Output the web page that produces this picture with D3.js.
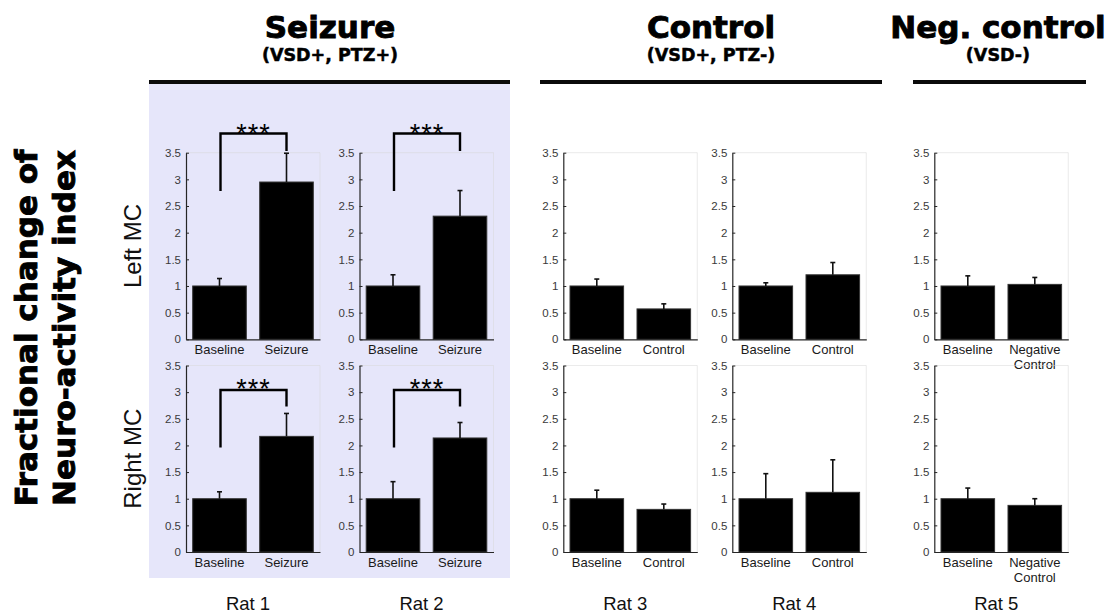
<!DOCTYPE html>
<html>
<head>
<meta charset="utf-8">
<script src="https://cdn.jsdelivr.net/npm/d3@7"></script>
<style>
  html, body { margin: 0; padding: 0; background: #fff; }
  svg { display: block; }
</style>
</head>
<body>
<svg id="chart" width="1113" height="616"></svg>
<script>
// ---------------- DATA ----------------
const rats = ["Rat 1", "Rat 2", "Rat 3", "Rat 4", "Rat 5"];
const regions = ["Left MC", "Right MC"];
const conditionLabels = [
  ["Baseline", "Seizure"],
  ["Baseline", "Seizure"],
  ["Baseline", "Control"],
  ["Baseline", "Control"],
  ["Baseline", "Negative\nControl"]
];
// mean fractional change (Left MC, top row)
const leftMean = [[1.0, 2.95], [1.0, 2.31], [1.0, 0.57], [1.0, 1.21], [1.0, 1.03]];
const leftErr  = [[0.14, 0.54], [0.21, 0.48], [0.13, 0.095], [0.06, 0.23], [0.19, 0.13]];
// mean fractional change (Right MC, bottom row)
const rightMean = [[1.0, 2.17], [1.0, 2.14], [1.0, 0.80], [1.0, 1.12], [1.0, 0.875]];
const rightErr  = [[0.13, 0.43], [0.32, 0.29], [0.16, 0.10], [0.47, 0.61], [0.20, 0.125]];
// significance markers
const significant = [true, true, false, false, false];
const sigLabel = "***";
// bracket geometry in data units per row: [top, left leg end, right leg end, star centre]
const bracketTop   = [3.86, 3.04];
const bracketLeft  = [2.78, 1.96];
const bracketRight = [3.53, 2.73];
const starLevel    = [3.97, 3.17];
// axis ticks
const yTicks = [0, 0.5, 1, 1.5, 2, 2.5, 3, 3.5];
// groups
const groupTitles = ["Seizure", "Control", "Neg. control"];
const groupSubtitles = ["(VSD+, PTZ+)", "(VSD+, PTZ-)", "(VSD-)"];
const yTitleLines = ["Fractional change of", "Neuro-activity index"];

// ---------------- LAYOUT ----------------
const svg = d3.select("#chart");
const panelLeft  = [186, 359.5, 563.3, 732.3, 934.3];
const panelWidth = 134;
const rowTop    = [152.7, 365.5];
const rowBottom = [339.3, 552];
const groupLine = [[149, 510], [540, 882], [913, 1086]];
const groupCenter = [330, 711, 998];
const axisColor = "#262626";
const sansFont = "'Liberation Sans', Arial, sans-serif";
const heavyFont = "'DejaVu Sans', 'Liberation Sans', sans-serif";

// shaded seizure region
svg.append("rect")
  .attr("x", 149).attr("y", 84)
  .attr("width", 361).attr("height", 494)
  .attr("fill", "#e6e6fa");

// group headers
groupTitles.forEach((t, i) => {
  svg.append("text")
    .attr("x", groupCenter[i]).attr("y", 38)
    .attr("text-anchor", "middle")
    .attr("font-family", heavyFont).attr("font-weight", "bold")
    .attr("font-size", 31).attr("fill", "#000")
    .attr("stroke", "#000").attr("stroke-width", 0.9)
    .text(t);
  svg.append("text")
    .attr("x", groupCenter[i]).attr("y", 61)
    .attr("text-anchor", "middle")
    .attr("font-family", heavyFont).attr("font-weight", "bold")
    .attr("font-size", 17.5).attr("fill", "#000")
    .attr("stroke", "#000").attr("stroke-width", 0.5)
    .text(groupSubtitles[i]);
  svg.append("line")
    .attr("x1", groupLine[i][0]).attr("x2", groupLine[i][1])
    .attr("y1", 82).attr("y2", 82)
    .attr("stroke", "#0a0a0a").attr("stroke-width", 4);
});

// y title (two rotated lines)
const midY = 328;
yTitleLines.forEach((t, i) => {
  const x = i === 0 ? 37 : 75;
  svg.append("text")
    .attr("transform", `translate(${x},${midY}) rotate(-90)`)
    .attr("text-anchor", "middle")
    .attr("font-family", heavyFont).attr("font-weight", "bold")
    .attr("font-size", 31).attr("fill", "#000")
    .attr("stroke", "#000").attr("stroke-width", 0.9)
    .text(t);
});

// region labels
regions.forEach((r, ri) => {
  const cy = (rowTop[ri] + rowBottom[ri]) / 2;
  svg.append("text")
    .attr("transform", `translate(141,${cy}) rotate(-90)`)
    .attr("text-anchor", "middle")
    .attr("font-family", sansFont)
    .attr("font-size", 24).attr("fill", "#111")
    .text(r);
});

// panels
const rowsMean = [leftMean, rightMean];
const rowsErr = [leftErr, rightErr];

rats.forEach((rat, pi) => {
  const x0 = panelLeft[pi];
  const x = d3.scaleBand()
    .domain(conditionLabels[pi])
    .range([x0, x0 + panelWidth])
    .paddingInner(0.2).paddingOuter(0.1);

  [0, 1].forEach(ri => {
    const y = d3.scaleLinear().domain([0, 3.5]).range([rowBottom[ri], rowTop[ri]]);
    const g = svg.append("g");

    // faint box (top/right)
    g.append("path")
      .attr("d", `M${x0},${y(3.5)}H${x0 + panelWidth}V${y(0)}`)
      .attr("fill", "none").attr("stroke", "#d8d8d8").attr("stroke-opacity", 0.5)
      .attr("stroke-width", 1);

    // bars
    const means = rowsMean[ri][pi];
    const errs = rowsErr[ri][pi];
    const data = conditionLabels[pi].map((c, k) => ({ c, v: means[k], e: errs[k] }));

    g.selectAll("rect.bar").data(data).enter().append("rect")
      .attr("class", "bar")
      .attr("x", d => x(d.c))
      .attr("width", x.bandwidth())
      .attr("y", d => y(d.v))
      .attr("height", d => y(0) - y(d.v))
      .attr("fill", "#000")
      .attr("stroke", "#333").attr("stroke-width", 1);

    // error bars (upper only)
    const eb = g.selectAll("g.err").data(data).enter().append("g").attr("class", "err");
    eb.append("line")
      .attr("x1", d => x(d.c) + x.bandwidth() / 2)
      .attr("x2", d => x(d.c) + x.bandwidth() / 2)
      .attr("y1", d => y(d.v))
      .attr("y2", d => y(d.v + d.e))
      .attr("stroke", "#111").attr("stroke-width", 1.6);
    eb.append("line")
      .attr("x1", d => x(d.c) + x.bandwidth() / 2 - 2.5)
      .attr("x2", d => x(d.c) + x.bandwidth() / 2 + 2.5)
      .attr("y1", d => y(d.v + d.e))
      .attr("y2", d => y(d.v + d.e))
      .attr("stroke", "#111").attr("stroke-width", 1.6);

    // axes
    const ay = d3.axisLeft(y).tickValues(yTicks)
      .tickFormat(d => String(d))
      .tickSizeInner(-3).tickSizeOuter(0).tickPadding(5);
    const axG = g.append("g").attr("transform", `translate(${x0},0)`).call(ay);
    axG.select(".domain").attr("stroke", axisColor).attr("stroke-width", 1.2);
    axG.selectAll(".tick line").attr("stroke", axisColor).attr("stroke-width", 1);
    axG.selectAll(".tick text")
      .attr("font-family", sansFont).attr("font-size", 11.5).attr("fill", "#3a3a3a");

    const ax = d3.axisBottom(x).tickSize(0).tickPadding(0).tickFormat(() => "");
    const bxG = g.append("g").attr("transform", `translate(0,${y(0)})`).call(ax);
    bxG.select(".domain").attr("stroke", axisColor).attr("stroke-width", 1.2);
    bxG.selectAll(".tick").each(function(d) {
      const lines = d.split("\n");
      const t = d3.select(this).append("text")
        .attr("text-anchor", "middle")
        .attr("font-family", sansFont).attr("font-size", 13)
        .attr("fill", "#1a1a1a");
      lines.forEach((ln, li) => {
        t.append("tspan").attr("x", 0).attr("y", 15 + li * 15).text(ln);
      });
    });

    // significance bracket
    if (significant[pi]) {
      const xl = x(conditionLabels[pi][0]) + x.bandwidth() / 2 + 1;
      const xr = x(conditionLabels[pi][1]) + x.bandwidth() / 2;
      g.append("path")
        .attr("d", `M${xl},${y(bracketLeft[ri])}V${y(bracketTop[ri])}H${xr}V${y(bracketRight[ri])}`)
        .attr("fill", "none").attr("stroke", "#000").attr("stroke-width", 2.4);
      g.append("text")
        .attr("x", (xl + xr) / 2)
        .attr("y", y(starLevel[ri]) + 15)
        .attr("text-anchor", "middle")
        .attr("font-family", sansFont).attr("font-size", 27)
        .attr("letter-spacing", 1)
        .attr("fill", "#000")
        .text(sigLabel);
    }
  });

  // rat label
  svg.append("text")
    .attr("x", x0 + panelWidth / 2 - 5)
    .attr("y", 610)
    .attr("text-anchor", "middle")
    .attr("font-family", sansFont).attr("font-size", 18.5)
    .attr("fill", "#111")
    .text(rat);
});
</script>
</body>
</html>
